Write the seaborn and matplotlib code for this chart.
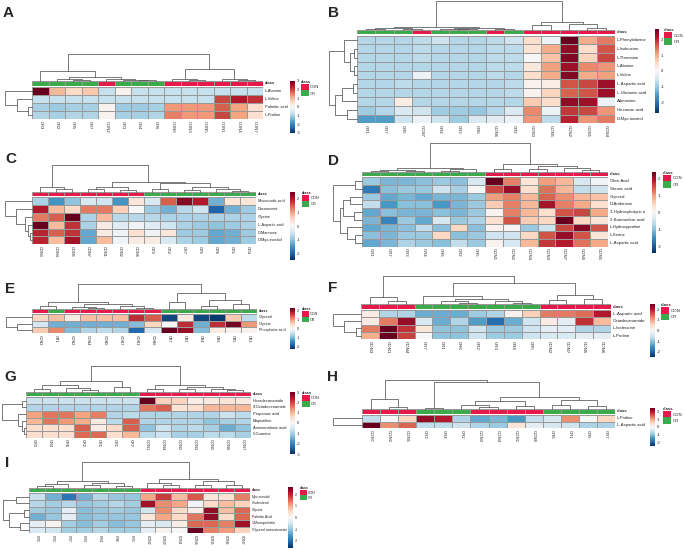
import numpy as np
import pandas as pd
import matplotlib
matplotlib.use('Agg')
import matplotlib.pyplot as plt
import seaborn as sns
from matplotlib.colors import ListedColormap
from matplotlib.patches import Patch

sns.set_style('white')
plt.rcParams['font.family'] = ['Liberation Sans', 'DejaVu Sans']

# ---------------- data ----------------
# trees: [height, left, right], leaves are column/row indices in display order

A_rows = ['L-Alanine', 'L-Valine', 'Palmitic acid', 'L-Proline']
A_cols = ['CR3', 'CR2', 'CR5', 'CR7', 'CON2', 'CR1', 'CR4', 'CR6', 'CON6', 'CON3', 'CON5', 'CON1', 'CON4', 'CON7']
A_vals = [
    [3.0, 1.0, 0.6, 0.8, -0.7, 0.1, -0.7, -0.7, -0.7, -0.7, -0.7, -0.7, -0.7, -0.7],
    [-0.7, -0.7, -0.7, -0.7, -0.7, -0.7, -0.7, -0.7, -0.7, -0.7, -0.7, 2.0, 2.4, 2.2],
    [-1.0, -1.1, -1.0, -1.0, 0.1, -1.1, -1.1, -1.0, 1.3, 1.3, 1.3, 1.8, 1.2, 0.5],
    [-0.9, -1.0, -0.9, -0.9, 0.1, -1.0, -1.0, -0.9, 1.5, 1.3, 1.3, 2.0, 1.2, 0.5],
]
A_col_tree = [1.0, [0.37, 0, [0.15, [0.06, 1, [0.03, 2, 3]], [0.08, 4, [0.05, 5, [0.03, 6, 7]]]]],
              [0.44, [0.07, 8, [0.03, 9, 10]], [0.09, 11, [0.05, 12, 13]]]]
A_row_tree = [1.0, 0, [0.55, 1, [0.15, 2, 3]]]

B_rows = ['L-Phenylalanine', 'L-Isoleucine', 'L-Threonine', 'L-Alanine', 'L-Valine', 'L-Aspartic acid',
          'L-Glutamic acid', 'Adenosine', 'Hexanoic acid', 'D-Myo-inositol']
B_cols = ['CR1', 'CR7', 'CR5', 'CON7', 'CR4', 'CR3', 'CR6', 'CON6', 'CR2', 'CON3', 'CON5', 'CON2', 'CON1', 'CON4']
B_vals = [
    [-0.8, -0.8, -0.8, -0.7, -0.55, -0.8, -0.8, -0.7, -0.55, 0.5, -0.15, 2.7, 1.0, 1.4],
    [-0.8, -0.8, -0.8, -0.7, -0.8, -0.8, -0.8, -0.7, -0.7, 0.4, 1.0, 2.4, 0.5, 1.7],
    [-0.8, -0.8, -0.8, -0.7, -0.8, -0.8, -0.8, -0.7, -0.7, 0.0, 0.8, 2.5, 0.6, 1.8],
    [-0.8, -0.8, -0.8, -0.8, -0.8, -0.8, -0.8, -0.7, -0.7, 0.3, 1.1, 2.3, 1.3, 1.2],
    [-0.8, -0.8, -0.8, -0.15, -0.8, -0.8, -0.8, -0.7, -0.8, 0.5, 1.0, 2.5, 1.0, 1.1],
    [-0.8, -0.8, -0.7, -0.8, -0.8, -0.8, -0.8, -0.8, -0.7, 0.1, 0.2, 1.7, 1.8, 2.3],
    [-0.8, -0.8, -0.8, -0.8, -0.8, -0.8, -0.8, -0.8, -0.7, 0.1, 0.6, 1.6, 1.7, 2.3],
    [-0.8, -0.8, 0.2, -0.8, -0.8, -0.8, -0.8, -0.8, -0.8, 0.7, 0.5, 2.4, 2.3, -0.15],
    [-0.95, -0.8, -0.4, -0.55, -0.95, -0.95, -1.05, -0.8, -0.4, 1.3, -0.15, 1.9, 1.8, 1.2],
    [-1.5, -1.5, -0.55, -0.15, -0.55, -0.95, -0.4, -0.3, -0.15, 1.2, -0.7, 2.1, 1.2, 1.4],
]
B_col_tree = [1.0, [0.1, [0.07, [0.04, 0, 1], [0.05, 2, 3]], [0.08, [0.04, 4, [0.02, 5, 6]], [0.05, 7, 8]]],
              [0.27, [0.17, 9, 10], [0.2, 11, [0.07, 12, 13]]]]
B_row_tree = [1.0, [0.45, 0, [0.25, [0.12, 1, 2], [0.12, 3, 4]]], [0.8, [0.55, [0.15, 5, 6], 7], [0.35, 8, 9]]]

C_rows = ['Muconodic acid', 'Doconexent', 'Glycine', 'L-Aspartic acid', 'D-Mannose', 'D-Myo-inositol']
C_cols = ['CON3', 'CON4', 'CON5', 'CON7', 'CON1', 'CON2', 'CON6', 'CR3', 'CR2', 'CR7', 'CR5', 'CR6', 'CR1', 'CR4']
C_vals = [
    [-0.8, -1.5, -1.0, -0.4, -0.5, -1.5, 0.3, -0.4, 1.5, 2.3, 2.0, -1.2, 0.3, 0.3],
    [2.0, 0.8, 0.5, 1.3, 1.3, 0.6, 0.0, -0.9, -1.2, -0.7, -0.5, -2.0, -1.2, -0.9],
    [1.3, 1.5, 2.5, -0.8, 0.8, -0.7, -0.7, -0.7, -0.8, -0.8, -0.8, -0.8, -0.8, -0.8],
    [2.5, 0.8, 1.8, -0.8, 0.2, -0.3, -0.1, -0.3, -0.5, -0.8, -0.9, -1.0, -0.9, -0.8],
    [1.9, 1.5, 1.8, -1.3, 0.2, -0.1, 0.4, -0.1, 0.3, -0.9, -0.9, -1.3, -1.2, -0.9],
    [1.9, 0.8, 2.1, -1.3, 0.8, -0.1, 0.2, 0.2, -0.4, -0.8, -0.9, -1.3, -1.2, -0.9],
]
C_col_tree = [1.0, [0.19, 0, [0.11, 1, 2]],
              [0.37, [0.18, [0.1, 3, 4], [0.08, 5, 6]], [0.33, [0.1, 7, 8], [0.2, [0.08, 9, 10], [0.1, 11, [0.05, 12, 13]]]]]]
C_row_tree = [1.0, 0, [0.6, 1, [0.25, 2, [0.15, 3, [0.08, 4, 5]]]]]

D_rows = ['Oleic Acid', 'Stearic acid', 'Glycerol', 'D-Arabinose', '3-Hydroxybutyric a', '2-Butenedioic acid',
          'L-Hydroxyproline', 'L-Serine', 'L-Aspartic acid']
D_cols = ['CR1', 'CR7', 'CR3', 'CR4', 'CR6', 'CR2', 'CR5', 'CON1', 'CON2', 'CON4', 'CON3', 'CON7', 'CON6', 'CON5']
D_vals = [
    [-0.9, -1.1, -1.1, -1.0, -0.9, -1.0, -0.4, 2.4, 1.2, 0.3, 1.0, 0.8, -0.4, -0.1],
    [-1.7, -1.0, -0.9, -0.9, -0.5, -0.8, 0.0, 1.6, 2.1, 0.4, 1.3, 0.8, -0.6, -0.5],
    [-0.9, -1.25, -1.1, -1.25, -1.1, -1.1, -0.9, 1.0, 1.2, 0.8, 1.4, 1.1, 0.8, 0.7],
    [-0.6, -1.4, -1.0, -1.0, -1.4, -1.1, -0.9, 0.6, 1.2, 0.8, 2.0, 1.2, 0.9, 0.4],
    [-1.25, -1.0, -1.1, -1.1, -1.0, -1.1, -0.9, 0.1, 1.2, 0.8, 0.4, 1.5, 1.6, 0.9],
    [-1.1, -1.6, -0.9, -1.25, -0.4, -0.9, -0.75, 0.4, 1.5, 0.6, 0.5, 2.4, 0.5, 0.3],
    [-1.25, -1.1, -1.0, -0.6, -1.0, 0.5, -1.0, 0.1, 0.0, -0.9, -0.5, 1.6, 2.2, 1.5],
    [-1.0, -1.1, -0.9, -0.9, 0.5, -1.0, -0.9, -0.5, -0.5, 0.5, 1.5, 2.1, 1.5, 0.3],
    [-1.25, -1.1, -0.75, -0.9, -1.0, -0.6, -0.9, 0.1, -0.4, 0.8, 1.7, 1.9, 1.3, 0.9],
]
D_col_tree = [1.0, [0.14, [0.08, [0.05, 0, 1], [0.05, 2, 3]], [0.1, [0.04, 4, 5], 6]],
              [0.26, [0.12, 7, 8], [0.2, [0.1, 9, 10], [0.15, 11, [0.08, 12, 13]]]]]
D_row_tree = [1.0, [0.24, 0, 1], [0.76, [0.65, [0.41, 2, 3], [0.28, 4, 5]], [0.52, 6, [0.24, 7, 8]]]]

E_rows = ['Glycerol', 'Glycine', 'Phosphoric acid']
E_cols = ['CON3', 'CR1', 'CON2', 'CON4', 'CON5', 'CON7', 'CON1', 'CON6', 'CR7', 'CR2', 'CR4', 'CR6', 'CR5', 'CR3']
E_vals = [
    [0.5, 0.7, 0.2, 0.7, 0.7, 0.7, 1.7, 1.4, -2.1, 0.2, -2.1, -2.2, 0.6, -0.6],
    [-0.4, -1.1, -1.1, -1.1, -1.1, -1.1, -1.0, 0.5, 0.0, 1.7, -1.1, 1.7, 2.2, 1.0],
    [0.6, 1.1, -1.0, -0.7, -0.6, -0.7, -1.8, -0.4, 2.3, 2.0, -1.0, 0.2, 0.1, 0.1],
]
E_col_tree = [1.0, [0.28, [0.15, 0, 1], [0.2, [0.1, 2, [0.05, 3, 4]], [0.12, 5, [0.06, 6, 7]]]],
              [0.64, [0.3, 8, 9], [0.35, [0.15, 10, 11], [0.2, 12, 13]]]]
E_row_tree = [1.0, 0, [0.58, 1, 2]]

F_rows = ['L-Aspartic acid', 'Octadecanamide', 'L-Isoleucine', 'L-Proline']
F_cols = ['CON3', 'CON1', 'CON4', 'CR7', 'CR1', 'CR6', 'CR2', 'CR3', 'CR4', 'CR5', 'CON2', 'CON7', 'CON5', 'CON6']
F_vals = [
    [0.2, -0.75, -0.75, -1.25, -1.25, -1.25, -0.9, -0.75, 0.1, 0.6, 1.3, 1.3, 1.4, 2.0],
    [0.2, 1.3, 2.2, -0.4, -1.25, -0.75, -1.4, -1.9, -1.25, -0.5, 0.2, -0.25, 1.8, 0.8],
    [1.3, 2.5, 1.8, 0.3, -1.0, -1.0, -0.5, -0.9, -0.9, -0.5, -0.25, -0.25, -0.75, -0.75],
    [0.9, 2.5, 1.7, 0.0, -1.0, -1.0, -0.5, -0.9, -0.9, -0.5, -0.4, -0.4, -0.25, -0.25],
]
F_col_tree = [1.0, [0.25, 0, [0.12, 1, 2]],
              [0.75, [0.3, 3, [0.2, [0.1, 4, [0.05, 5, 6]], [0.12, 7, [0.06, 8, 9]]]], [0.32, [0.15, 10, 11], [0.2, 12, 13]]]]
F_row_tree = [1.0, 0, [0.6, 1, [0.18, 2, 3]]]

G_rows = ['Hexadecanamide', '9-Octadecenamide', 'Propanoic acid', 'Maprotiline', 'Aminomalonic acid', '5-Guanine']
G_cols = ['CR3', 'CR4', 'CR6', 'CR2', 'CR5', 'CR1', 'CR7', 'CON1', 'CON4', 'CON2', 'CON3', 'CON5', 'CON6', 'CON7']
G_vals = [
    [-0.65, -0.65, -0.65, -0.65, -0.65, -0.65, -0.65, 3.0, 0.7, 0.7, 0.2, 0.3, 0.4, 0.3],
    [-0.9, -0.9, -0.9, -0.9, -0.9, -0.9, -0.9, 1.6, 1.8, 0.4, 0.5, 1.0, 1.0, 1.0],
    [1.2, 1.6, 1.6, 1.2, 1.5, -0.9, -0.8, -0.9, -0.9, -0.9, -0.9, -0.9, -0.65, -0.8],
    [1.0, 1.6, 1.3, 1.1, 0.3, -0.8, 1.8, -0.9, -0.9, -0.9, -0.9, -1.2, -1.0, -0.9],
    [0.5, 0.5, 0.5, 1.8, 0.2, 0.6, 1.8, -1.2, -0.65, -0.9, -0.8, -1.0, -1.5, -1.2],
    [0.5, 0.5, 0.5, 1.7, 1.7, 0.5, 1.0, -0.8, -0.65, -1.0, -1.0, -0.8, -0.8, -1.0],
]
G_col_tree = [1.0, [0.4, [0.25, [0.1, 0, 1], [0.15, 2, [0.08, 3, 4]]], [0.2, 5, 6]],
              [0.27, [0.12, 7, 8], [0.2, [0.1, 9, 10], [0.12, 11, [0.06, 12, 13]]]]]
G_row_tree = [1.0, [0.18, 0, 1], [0.33, 2, [0.17, 3, [0.08, 4, 5]]]]

H_rows = ['L-Proline', 'L-Aspartic acid']
H_cols = ['CON7', 'CON2', 'CON5', 'CR3', 'CR4', 'CR2', 'CON3', 'CON4', 'CON1', 'CON6', 'CR6', 'CR1', 'CR5', 'CR7']
H_vals = [
    [-0.6, 0.0, 0.5, 2.1, 1.9, -0.75, -1.25, -1.1, -1.4, -0.6, -0.4, 1.1, 0.0, 0.5],
    [2.4, 1.1, 1.4, -0.6, -0.6, -0.5, -0.75, -0.9, 0.3, -0.25, -0.4, -0.5, -0.75, -0.75],
]
H_col_tree = [1.0, [0.34, 0, [0.07, 1, 2]],
              [0.93, [0.03, 3, 4], [0.41, [0.3, [0.15, 5, [0.08, 6, 7]], [0.12, 8, 9]], [0.33, [0.15, 10, 11], [0.1, 12, 13]]]]]
H_row_tree = [1.0, 0, 1]

I_rows = ['Myo-inositol', 'Cholesterol', 'Glycine', 'Palmitic Acid', '1-Monopalmitin', 'Glycerol monostearate']
I_cols = ['CR5', 'CR2', 'CR7', 'CR3', 'CR4', 'CR6', 'CR1', 'CON2', 'CON3', 'CON1', 'CON4', 'CON5', 'CON6', 'CON7']
I_vals = [
    [-0.6, -1.25, -1.9, -1.25, -0.75, -1.0, -1.0, 1.0, 1.8, 0.8, 1.6, 0.3, 0.4, 1.3],
    [-0.75, -0.9, -0.75, -1.0, -0.9, -0.75, -0.9, 2.2, 1.2, 1.0, -0.1, 0.5, 0.8, 0.6],
    [-0.9, -1.0, -0.25, -1.1, -1.0, -0.9, -1.0, -0.5, 1.2, 0.5, 0.2, 2.3, 0.8, 1.5],
    [-1.25, -1.0, -0.25, -1.1, -1.0, -1.0, -1.0, 0.3, 1.0, 0.5, 1.4, 2.3, 0.5, 1.5],
    [-0.25, 0.1, -0.9, -1.1, -0.9, -1.1, -1.0, -0.25, -0.4, 0.2, 1.5, 1.5, 1.3, 2.2],
    [-0.4, -0.5, -0.9, -0.9, -0.75, -0.9, -0.9, -0.25, 0.1, 0.0, 2.6, 1.3, 1.1, 0.6],
]
I_col_tree = [1.0, [0.27, [0.15, [0.08, 0, 1], 2], [0.18, [0.1, 3, 4], [0.08, 5, 6]]],
              [0.35, [0.2, 7, [0.1, 8, 9]], [0.25, [0.12, 10, 11], [0.1, 12, 13]]]]
I_row_tree = [1.0, [0.5, 0, 1], [0.77, [0.19, 2, 3], [0.35, 4, 5]]]

# ---------------- layout (pixels, y from top) ----------------
W, H = 685, 551
LAYOUT = {
    'A': dict(letter=(3, 6), x=(32, 263), cls=(81, 85.5), cells=(86.5, 119), top=54, left=5, cbar=(290, 81, 295, 133), leg=(301, 80), fs=3.0),
    'B': dict(letter=(328, 6), x=(357, 615), cls=(30, 34.3), cells=(35.7, 123.3), top=0.8, left=329, cbar=(655, 29, 659, 113), leg=(664, 28), fs=3.1),
    'C': dict(letter=(5, 152), x=(32, 256), cls=(192, 196.3), cells=(197.3, 244.3), top=165, left=5, cbar=(290, 192, 295, 260), leg=(302, 191), fs=2.8),
    'D': dict(letter=(328, 154), x=(362, 608), cls=(172, 176), cells=(177.3, 246.7), top=143, left=333, cbar=(652, 172, 656, 253), leg=(663, 171), fs=3.05),
    'E': dict(letter=(5, 282), x=(32, 257), cls=(309.3, 313.3), cells=(314.3, 333.3), top=284, left=6, cbar=(290, 308, 295, 349), leg=(302, 307), fs=2.7),
    'F': dict(letter=(328, 281), x=(361, 611), cls=(304.3, 309), cells=(310, 339.3), top=276, left=333, cbar=(650, 304, 655, 357), leg=(661, 303), fs=3.2),
    'G': dict(letter=(4, 370), x=(26, 251), cls=(391.7, 396), cells=(397.3, 437.7), top=366, left=2, cbar=(290, 392, 295, 454), leg=(302, 391), fs=2.9),
    'H': dict(letter=(327, 370), x=(362, 615), cls=(409.3, 413.7), cells=(415, 428.3), top=380, left=333, cbar=(650, 408, 655, 446), leg=(663, 407), fs=3.1),
    'I': dict(letter=(5, 456), x=(29, 250), cls=(487.7, 492), cells=(493.3, 533.3), top=462, left=3, cbar=(288, 487, 293, 548), leg=(300, 486), fs=2.5),
}
CON_C, CR_C = '#E5194A', '#3BAA4A'
GRID = '#9a9a9a'
TREE_C = '#555555'

fig = plt.figure(figsize=(W / 100, H / 100), dpi=100)


def add_box(x0, y0, x1, y1):
    return fig.add_axes([x0 / W, 1 - y1 / H, (x1 - x0) / W, (y1 - y0) / H])


def dendro(ax, tree, n, side):
    segs = []

    def walk(node):
        if isinstance(node, int):
            return node + 0.5, 0.0
        h, a, b = node
        pa, ha = walk(a)
        pb, hb = walk(b)
        segs.append(([pa, pa, pb, pb], [ha, h, h, hb]))
        return (pa + pb) / 2, h

    walk(tree)
    for p, h in segs:
        if side == 'top':
            ax.plot(p, h, color=TREE_C, lw=0.55, clip_on=False)
        else:
            ax.plot(h, p, color=TREE_C, lw=0.55, clip_on=False)
    if side == 'top':
        ax.set_xlim(0, n)
        ax.set_ylim(0, 1)
    else:
        ax.set_xlim(1, 0)
        ax.set_ylim(n, 0)
    ax.axis('off')


def panel(key, vals, rows, cols, col_tree, row_tree):
    L = LAYOUT[key]
    fs = L['fs']
    x0, x1 = L['x']
    c0, c1 = L['cls']
    y0, y1 = L['cells']
    df = pd.DataFrame(vals, index=rows, columns=cols)
    vmax = np.abs(df.values).max()

    ax = add_box(x0, y0, x1, y1)
    sns.heatmap(df, ax=ax, cmap='RdBu_r', vmin=-vmax, vmax=vmax, cbar=False,
                linewidths=0.4, linecolor=GRID, xticklabels=cols, yticklabels=rows)
    ax.yaxis.tick_right()
    ax.tick_params(axis='both', length=0, labelsize=fs, pad=1.2, labelcolor='#222222')
    plt.setp(ax.get_yticklabels(), rotation=0, ha='left', va='center')
    plt.setp(ax.get_xticklabels(), rotation=270, ha='center', va='top')
    ax.set_xlabel('')
    ax.set_ylabel('')

    # class annotation bar
    codes = [[0 if c.startswith('CON') else 1 for c in cols]]
    cax = add_box(x0, c0, x1, c1)
    sns.heatmap(pd.DataFrame(codes, index=['class'], columns=cols), ax=cax,
                cmap=ListedColormap([CON_C, CR_C]), vmin=-0.5, vmax=1.5, cbar=False,
                linewidths=0.4, linecolor=GRID, xticklabels=False, yticklabels=['class'])
    cax.yaxis.tick_right()
    cax.tick_params(axis='y', length=0, labelsize=fs, pad=1.2)
    plt.setp(cax.get_yticklabels(), rotation=0, ha='left', va='center', fontweight='bold')
    cax.set_xlabel('')
    cax.set_ylabel('')

    # dendrograms
    dendro(add_box(x0, L['top'], x1, c0), col_tree, len(cols), 'top')
    dendro(add_box(L['left'], y0, x0, y1), row_tree, len(rows), 'left')

    # colour bar
    bx = add_box(*L['cbar'])
    cb = fig.colorbar(ax.collections[0], cax=bx)
    ticks = np.arange(-np.floor(vmax), np.floor(vmax) + 1)
    cb.set_ticks(ticks)
    cb.set_ticklabels([f'{int(t)}' for t in ticks])
    cb.outline.set_visible(False)
    cb.ax.tick_params(labelsize=fs, length=0, pad=1.5)

    # class legend
    lx, ly = L['leg']
    fig.legend(handles=[Patch(facecolor=CON_C, edgecolor='none', label='CON'),
                        Patch(facecolor=CR_C, edgecolor='none', label='CR')],
               loc='upper left', bbox_to_anchor=(lx / W, 1 - ly / H), frameon=False,
               fontsize=fs, title='class', title_fontproperties={'weight': 'bold', 'size': fs},
               handlelength=1.9, handleheight=1.9, handletextpad=0.3, labelspacing=0.0,
               borderpad=0, borderaxespad=0, alignment='left')

    tx, ty = L['letter']
    fig.text(tx / W, 1 - ty / H, key, fontsize=11, fontweight='bold', ha='left', va='top')


panel('A', A_vals, A_rows, A_cols, A_col_tree, A_row_tree)
panel('B', B_vals, B_rows, B_cols, B_col_tree, B_row_tree)
panel('C', C_vals, C_rows, C_cols, C_col_tree, C_row_tree)
panel('D', D_vals, D_rows, D_cols, D_col_tree, D_row_tree)
panel('E', E_vals, E_rows, E_cols, E_col_tree, E_row_tree)
panel('F', F_vals, F_rows, F_cols, F_col_tree, F_row_tree)
panel('G', G_vals, G_rows, G_cols, G_col_tree, G_row_tree)
panel('H', H_vals, H_rows, H_cols, H_col_tree, H_row_tree)
panel('I', I_vals, I_rows, I_cols, I_col_tree, I_row_tree)

fig.savefig('out.png', dpi=100)
